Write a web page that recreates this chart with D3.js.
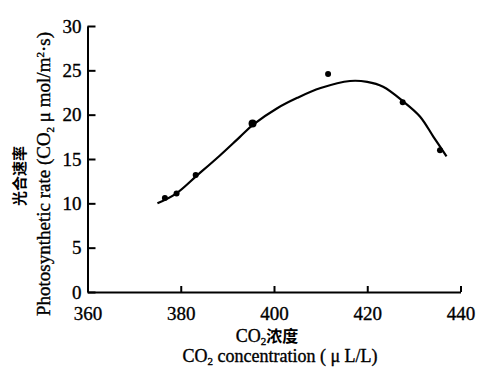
<!DOCTYPE html>
<html>
<head>
<meta charset="utf-8">
<script src="https://cdn.jsdelivr.net/npm/d3@7"></script>
<style>
  html, body { margin: 0; padding: 0; background: #fff; }
  svg { display: block; }
  .serif { font-family: "Liberation Serif", "DejaVu Serif", serif; stroke: #000; stroke-width: 0.35px; }
  .cjk { font-family: "Noto Sans CJK SC", sans-serif; font-weight: 700; }
</style>
</head>
<body>
<svg id="chart" width="478" height="371"></svg>
<script>
// Measured photosynthetic rate at each CO2 concentration
const concentration = [376.6, 379.1, 383.2, 395.4, 411.6, 427.6, 435.6];
const rate = [10.6, 11.1, 13.2, 19.0, 24.6, 21.4, 16.0];

// Fitted response curve
const fitConcentration = [375.0, 379.0, 383.4, 388.4, 392.7, 395.6, 400.6, 405.0, 410.0, 416.3, 420.0, 423.4, 427.7, 431.3, 434.2, 437.0];
const fitRate = [10.0, 11.1, 13.1, 15.4, 17.5, 18.9, 20.7, 21.9, 23.0, 23.8, 23.7, 23.15, 21.5, 19.8, 17.5, 15.3];

// Axis ticks
const xTicks = [360, 380, 400, 420, 440];
const yTicks = [0, 5, 10, 15, 20, 25, 30];

const svg = d3.select("#chart");
const plotLeft = 87.5, plotRight = 460.5, plotTop = 26, plotBottom = 292;

const x = d3.scaleLinear().domain([360, 440]).range([plotLeft, plotRight]);
const y = d3.scaleLinear().domain([0, 30]).range([plotBottom, plotTop]);

// X axis with upward ticks
const gx = svg.append("g")
  .attr("transform", `translate(0,${plotBottom})`)
  .call(d3.axisBottom(x).tickValues(xTicks).tickSizeInner(-6).tickSizeOuter(0).tickPadding(15));

// Y axis with inward ticks
const gy = svg.append("g")
  .attr("transform", `translate(${plotLeft},0)`)
  .call(d3.axisLeft(y).tickValues(yTicks).tickSizeInner(-8).tickSizeOuter(0).tickPadding(6));

[gx, gy].forEach(g => {
  g.select(".domain").attr("stroke", "#000").attr("stroke-width", 2);
  g.selectAll(".tick line").attr("stroke", "#000").attr("stroke-width", 2);
  g.selectAll(".tick text")
    .attr("class", "serif")
    .attr("fill", "#000")
    .style("font-size", "19px");
});

// Fitted curve
const line = d3.line()
  .x((d, i) => x(fitConcentration[i]))
  .y((d, i) => y(fitRate[i]))
  .curve(d3.curveCatmullRom.alpha(0.5));

svg.append("path")
  .datum(fitRate)
  .attr("d", line)
  .attr("fill", "none")
  .attr("stroke", "#000")
  .attr("stroke-width", 2.2);

// Observed values
svg.selectAll("circle.obs")
  .data(rate)
  .join("circle")
  .attr("class", "obs")
  .attr("cx", (d, i) => x(concentration[i]))
  .attr("cy", d => y(d))
  .attr("r", (d, i) => i === 3 ? 4 : 3)
  .attr("fill", "#000");

// Y axis titles
const yTitle = svg.append("text")
  .attr("class", "serif")
  .attr("transform", "translate(50,174) rotate(-90)")
  .attr("text-anchor", "middle")
  .style("font-size", "19px")
  .attr("fill", "#000");
yTitle.append("tspan").text("Photosynthetic rate (CO");
yTitle.append("tspan").text("2").style("font-size", "11px").attr("dy", 4);
yTitle.append("tspan").text(" μ mol/m").style("font-size", "19px").attr("dy", -4);
yTitle.append("tspan").text("2").style("font-size", "11px").attr("dy", -6);
yTitle.append("tspan").text("·s)").style("font-size", "19px").attr("dy", 6);

svg.append("text")
  .attr("class", "cjk")
  .attr("transform", "translate(25,176) rotate(-90)")
  .attr("text-anchor", "middle")
  .style("font-size", "15px")
  .attr("fill", "#000")
  .text("光合速率");

// X axis titles
const xTitle1 = svg.append("text")
  .attr("text-anchor", "middle")
  .attr("x", 267)
  .attr("y", 342)
  .attr("fill", "#000");
xTitle1.append("tspan").attr("class", "serif").style("font-size", "18px").text("CO");
xTitle1.append("tspan").attr("class", "serif").style("font-size", "11px").attr("dy", 3).text("2");
xTitle1.append("tspan").attr("class", "cjk").style("font-size", "16px").attr("dy", -3).text("浓度");

const xTitle2 = svg.append("text")
  .attr("class", "serif")
  .attr("text-anchor", "middle")
  .attr("x", 280)
  .attr("y", 362)
  .style("font-size", "18px")
  .attr("fill", "#000");
xTitle2.append("tspan").text("CO");
xTitle2.append("tspan").style("font-size", "11px").attr("dy", 3).text("2");
xTitle2.append("tspan").style("font-size", "18px").attr("dy", -3).text(" concentration ( μ L/L)");
</script>
</body>
</html>
